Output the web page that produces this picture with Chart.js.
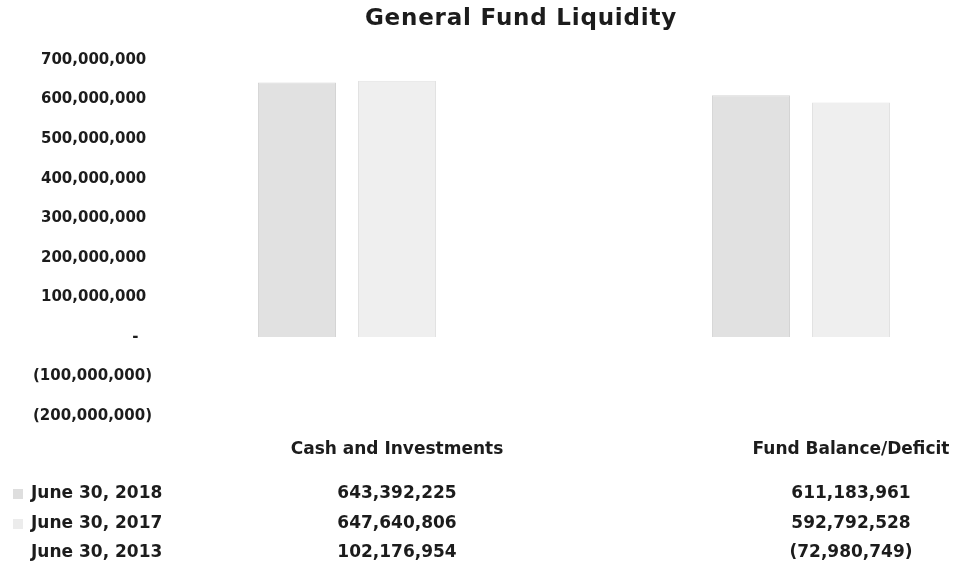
<!DOCTYPE html>
<html>
<head>
<meta charset="utf-8">
<script src="https://cdn.jsdelivr.net/npm/chart.js@4/dist/chart.umd.min.js"></script>
<style>
  html, body { margin: 0; padding: 0; background: #fff; overflow: hidden; }
  #wrap { position: relative; width: 961px; height: 569px; overflow: hidden; }
  canvas { display: block; }
</style>
</head>
<body>
<div id="wrap"><canvas id="c" width="1090" height="569" style="width:1090px;height:569px"></canvas></div>
<script>
const chartTitle = "General Fund Liquidity";
const categories = ["Cash and Investments", "Fund Balance/Deficit"];
const seriesNames = ["June 30, 2018", "June 30, 2017", "June 30, 2013"];
const values2018 = [643392225, 611183961];
const values2017 = [647640806, 592792528];
const values2013 = [102176954, -72980749];
const seriesFills = ["#e1e1e1", "#efefef", "rgba(255,255,255,0)"];
const seriesBorders = ["#d4d4d4", "#e2e2e2", "rgba(255,255,255,0)"];
const keyColors = ["#dedede", "#ececec", null];
const yMin = -200000000, yMax = 700000000, yStep = 100000000;

const FONT = "'DejaVu Sans', Verdana, sans-serif";
const TXT = "#1c1c1c";

function fmtNum(v) {
  if (v === 0) return "-\u2007\u2009";
  const s = Math.abs(v).toLocaleString("en-US");
  return v < 0 ? "(" + s + ")" : s + "\u2008";
}
function fmtVal(v) {
  const s = Math.abs(v).toLocaleString("en-US");
  return v < 0 ? "(" + s + ")" : s;
}

const tablePlugin = {
  id: "dataTable",
  afterDraw(chart) {
    const ctx = chart.ctx;
    const xs = chart.scales.x;
    ctx.save();
    ctx.fillStyle = TXT;
    // title
    ctx.font = "bold 23px " + FONT;
    if ("letterSpacing" in ctx) ctx.letterSpacing = "0.8px";
    ctx.textAlign = "center";
    ctx.textBaseline = "middle";
    ctx.fillText(chartTitle, 521, 19);
    if ("letterSpacing" in ctx) ctx.letterSpacing = "0px";
    // category header row
    ctx.font = "bold 17px " + FONT;
    categories.forEach((c, i) => {
      ctx.fillText(c, xs.getPixelForValue(i), 450);
    });
    // rows
    const rows = [values2018, values2017, values2013];
    const rowY = [494, 524, 553];
    rows.forEach((arr, r) => {
      const y = rowY[r];
      if (keyColors[r]) {
        ctx.fillStyle = keyColors[r];
        ctx.fillRect(13, y - 5, 10, 10);
      }
      ctx.fillStyle = TXT;
      ctx.font = "bold 17px " + FONT;
      ctx.textAlign = "left";
      ctx.fillText(seriesNames[r], 31, y);
      ctx.textAlign = "center";
      arr.forEach((v, i) => {
        ctx.fillText(fmtVal(v), xs.getPixelForValue(i), y);
      });
    });
    ctx.restore();
  }
};

const datasets = [values2018, values2017, values2013].map((arr, i) => ({
  label: seriesNames[i],
  data: arr,
  backgroundColor: seriesFills[i],
  borderColor: seriesBorders[i],
  borderWidth: 1,
  categoryPercentage: 0.661,
  barPercentage: 0.78
}));

new Chart(document.getElementById("c"), {
  type: "bar",
  data: { labels: categories, datasets },
  plugins: [tablePlugin],
  options: {
    responsive: false,
    animation: false,
    layout: { padding: { top: 60, bottom: 153, right: 12, left: 0 } },
    plugins: { legend: { display: false }, title: { display: false }, tooltip: { enabled: false } },
    scales: {
      x: { display: false, offset: true, grid: { display: false } },
      y: {
        min: yMin, max: yMax,
        grid: { display: false, drawTicks: false },
        border: { display: false },
        afterFit(scale) { scale.width = 170; },
        ticks: {
          stepSize: yStep,
          padding: 18,
          color: TXT,
          font: { family: FONT, size: 15, weight: "bold" },
          callback: (v) => fmtNum(v)
        }
      }
    }
  }
});
</script>
</body>
</html>
